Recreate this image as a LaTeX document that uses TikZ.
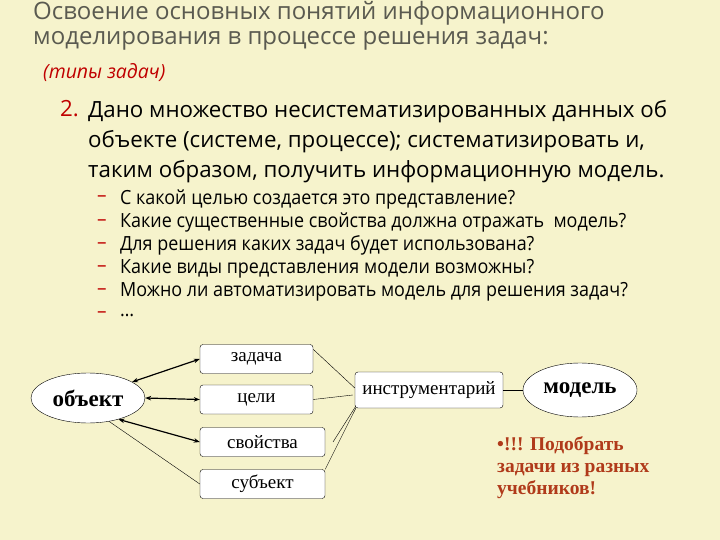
\documentclass[tikz,border=0pt]{standalone}
\usepackage{fontspec}
\setmainfont{Liberation Serif}
\newfontfamily\sans{Open Sans}
\usetikzlibrary{shapes.geometric,arrows.meta,calc}
\definecolor{bg}{HTML}{F6F3CC}
\definecolor{ttl}{HTML}{5A5A50}
\definecolor{rd}{HTML}{C00000}
\definecolor{brn}{HTML}{B03A1A}
\begin{document}
\begin{tikzpicture}[x=1pt,y=-1pt,
  bx/.style={draw,rounded corners=3pt,fill=white,font=\fontsize{19}{19}\selectfont,inner sep=0pt},
  el/.style={draw,ellipse,fill=white,inner sep=0pt,font=\bfseries\fontsize{23}{23}\selectfont},
  dbl/.style={{Stealth[length=6pt]}-{Stealth[length=6pt]},line width=1.2pt},
  thin/.style={line width=0.4pt}]
\fill[bg] (0,0) rectangle (720,540);
\useasboundingbox (0,0) rectangle (720,540);
\node[anchor=north west,text=ttl,font=\sans\fontsize{24}{25}\selectfont,align=left,inner sep=0pt] (t) at (33,1) {Освоение основных понятий информационного\\моделирования в процессе решения задач:};
\node[anchor=west,text=rd,font=\sans\itshape\fontsize{19.5}{19.5}\selectfont,inner sep=0pt] (st) at (43,73) {(типы задач)};
\node[anchor=north west,text=rd,font=\sans\fontsize{22.3}{22}\selectfont,inner sep=0pt] (n2) at (60,100) {2.};
\node[anchor=north west,font=\sans\fontsize{22.3}{30}\selectfont,align=left,inner sep=0pt] (p) at (88,100) {Дано множество несистематизированных данных об\\объекте (системе, процессе); систематизировать и,\\таким образом, получить информационную модель.};
\foreach \i/\s in {0/{С какой целью создается это представление?},1/{Какие существенные свойства должна отражать\ \ модель?},2/{Для решения каких задач будет использована?},3/{Какие виды представления модели возможны?},4/{Можно ли автоматизировать модель для решения задач?},5/{…}}{
  \node[anchor=west,text=rd,font=\sans\fontsize{19}{19}\selectfont,inner sep=0pt] (d\i) at (97,{199+\i*23.2}) {–};
  \node[anchor=west,font=\sans\fontsize{19.5}{19.5}\selectfont,inner sep=0pt,xscale=0.92,transform shape] (q\i) at (120,{199+\i*23.2}) {\s};
}
\node[bx,minimum width=113pt,minimum height=29pt] (za) at (256.5,359) {задача};
\node[bx,minimum width=113pt,minimum height=29pt] (ce) at (256.5,399.5) {цели};
\node[bx,minimum width=125pt,minimum height=29pt] (sv) at (262.5,442) {свойства};
\node[bx,minimum width=125pt,minimum height=29pt] (su) at (262.5,484) {субъект};
\node[el,minimum width=114pt,minimum height=50pt] (ob) at (88,398) {объект};
\node[bx,minimum width=148pt,minimum height=36pt] (in) at (429,390) {инструментарий};
\node[el,minimum width=114pt,minimum height=54pt] (mo) at (580,390) {модель};
\draw[dbl] (ob.20) -- (za.west);
\draw[dbl] (ob.east) -- (ce.west);
\draw[dbl] (ob.-35) -- (sv.west);
\draw[thin] (ob.-48) -- (su.west);
\draw[thin] ($(za.north east)+(0,5)$) -- ($(in.west)+(0,-2)$);
\draw[thin] (ce.east) -- ($(in.west)+(-2,5)$);
\draw[thin] (333,442) -- ($(in.south west)+(1,-2)$);
\draw[thin] ($(su.north east)+(0,0)$) -- ($(in.south west)+(1,0)$);
\draw[thin] (in.east) -- (mo.west);
\node[anchor=north west,text=brn,font=\bfseries\fontsize{19.5}{22}\selectfont,align=left,inner sep=0pt] (rt) at (497,436) {•!!! Подобрать\\задачи из разных\\учебников!};
\end{tikzpicture}
\end{document}
